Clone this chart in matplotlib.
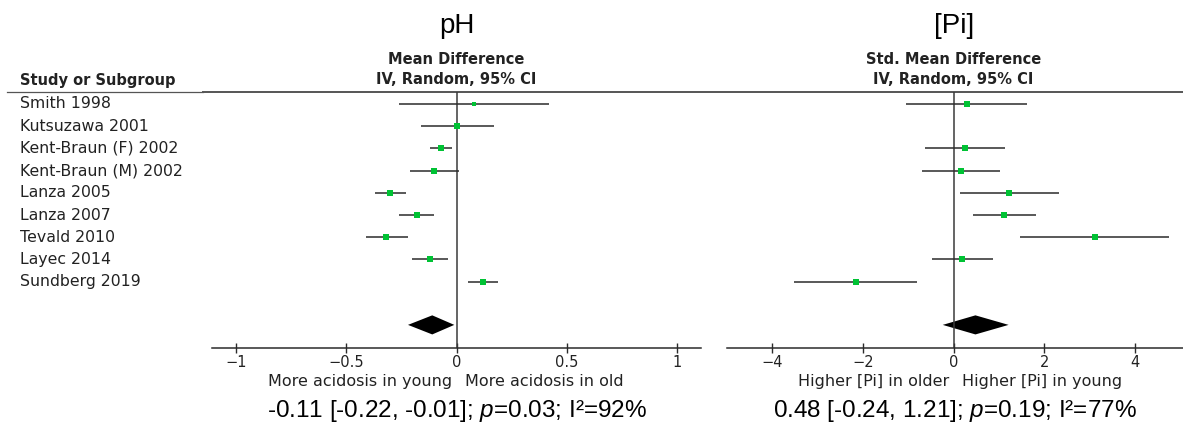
import matplotlib
matplotlib.use("Agg")
import matplotlib.pyplot as plt
import matplotlib.transforms as mtransforms
import numpy as np

plt.rcParams['font.family'] = ['DejaVu Sans']
plt.rcParams['mathtext.fontset'] = 'custom'
plt.rcParams['mathtext.rm'] = 'Liberation Sans'
plt.rcParams['mathtext.it'] = 'Liberation Sans:italic'

# studies (rows, top to bottom)
studies = ['Smith 1998', 'Kutsuzawa 2001', 'Kent-Braun (F) 2002', 'Kent-Braun (M) 2002',
           'Lanza 2005', 'Lanza 2007', 'Tevald 2010', 'Layec 2014', 'Sundberg 2019']

# pH: mean difference, 95% CI, weight (%)
ph_md = np.array([0.08, 0.00, -0.07, -0.10, -0.30, -0.18, -0.32, -0.12, 0.12])
ph_lo = np.array([-0.26, -0.16, -0.12, -0.21, -0.37, -0.26, -0.41, -0.20, 0.05])
ph_hi = np.array([0.42, 0.17, -0.02, 0.01, -0.23, -0.10, -0.22, -0.04, 0.19])
ph_w = np.array([5, 10, 13, 11, 13, 12, 12, 12, 13])
ph_pool = (-0.11, -0.22, -0.01)

# [Pi]: std. mean difference, 95% CI, weight (%) - no Pi data for Kutsuzawa
pi_smd = np.array([0.29, np.nan, 0.25, 0.16, 1.22, 1.11, 3.11, 0.19, -2.16])
pi_lo = np.array([-1.04, np.nan, -0.62, -0.70, 0.13, 0.43, 1.46, -0.48, -3.51])
pi_hi = np.array([1.62, np.nan, 1.13, 1.01, 2.32, 1.81, 4.75, 0.87, -0.80])
pi_w = np.array([9, 0, 12, 12, 13, 14, 9, 14, 9])
pi_pool = (0.48, -0.24, 1.21)

ph_ticks = [-1, -0.5, 0, 0.5, 1]
ph_ticklabels = ['\u22121', '\u22120.5', '0', '0.5', '1']
pi_ticks = [-4, -2, 0, 2, 4]
pi_ticklabels = ['\u22124', '\u22122', '0', '2', '4']

W, H = 1183, 423
fig = plt.figure(figsize=(W / 100, H / 100), dpi=100)

bg = fig.add_axes([0, 0, 1, 1])
bg.set_xlim(0, W)
bg.set_ylim(H, 0)
bg.axis('off')

y_top, y_axis = 92, 348
row_px = 22.2
first_row = 104
ylim = ((y_axis - first_row) / row_px, (y_top - first_row) / row_px)

green = '#00c234'
dark = '#2b2b2b'


def panel(x0, x1, xlim, est, lo, hi, w, pool, ticks, ticklabels, left_lab, right_lab, summary,
          title, head1):
    ax = fig.add_axes([x0 / W, (H - y_axis) / H, (x1 - x0) / W, (y_axis - y_top) / H])
    ax.set_xlim(*xlim)
    ax.set_ylim(*ylim)
    ax.patch.set_visible(False)
    for s in ['top', 'left', 'right']:
        ax.spines[s].set_visible(False)
    ax.spines['bottom'].set_color(dark)
    ax.spines['bottom'].set_linewidth(1.1)
    ax.set_yticks([])
    ax.set_xticks(ticks)
    ax.set_xticklabels(ticklabels)
    ax.tick_params(axis='x', direction='inout', length=7, width=1.0, color=dark,
                   labelsize=10.5, labelcolor='#222222', pad=1.3)
    ax.axvline(0, color='#3a3a3a', lw=1.1)

    rows = np.arange(len(est))
    ax.hlines(rows, lo, hi, color=dark, lw=1.1)
    for r, e, wt in zip(rows, est, w):
        if np.isnan(e):
            continue
        ax.plot(e, r, 's', color=green, markersize=2.2 + 0.17 * wt, markeredgewidth=0)

    m, plo, phi = pool
    yd = 9.95
    h = 0.43
    ax.fill([plo, m, phi, m], [yd, yd - h, yd, yd + h], color='black', lw=0)

    ax.annotate(left_lab, xy=(0, 0), xycoords=('data', 'axes fraction'), xytext=(-3, -24),
                textcoords='offset points', ha='right', va='center', fontsize=11.5, color='#222222')
    ax.annotate(right_lab, xy=(0, 0), xycoords=('data', 'axes fraction'), xytext=(6, -24),
                textcoords='offset points', ha='left', va='center', fontsize=11.5, color='#222222')
    ax.text(0.5, -0.246, summary, transform=ax.transAxes, ha='center', va='center',
            fontsize=17.5, family='Liberation Sans', color='black')

    xc = ax.transData.transform((0, 0))[0] / fig.dpi * 100
    bg.text(xc, 33, title, ha='center', va='baseline', fontsize=20, family='Liberation Sans')
    bg.text(xc, 59, head1, ha='center', va='center', fontsize=10.5, weight='bold', color='#222222')
    bg.text(xc, 80, 'IV, Random, 95% CI', ha='center', va='center', fontsize=10.5,
            weight='bold', color='#222222')
    return ax


axL = panel(212, 701, (-1.109, 1.109), ph_md, ph_lo, ph_hi, ph_w, ph_pool, ph_ticks, ph_ticklabels,
            'More acidosis in young', 'More acidosis in old',
            '-0.11 [-0.22, -0.01]; $p$=0.03; I\u00b2=92%', 'pH', 'Mean Difference')
axR = panel(727, 1183, (-4.99, 5.05), pi_smd, pi_lo, pi_hi, pi_w, pi_pool, pi_ticks, pi_ticklabels,
            'Higher [Pi] in older', 'Higher [Pi] in young',
            '0.48 [-0.24, 1.21]; $p$=0.19; I\u00b2=77%', '[Pi]', 'Std. Mean Difference')

# table header
bg.text(20, 81, 'Study or Subgroup', ha='left', va='center', fontsize=10.5, weight='bold',
        color='#222222')
bg.plot([7, 203], [y_top + 0.5, y_top + 0.5], color='#555555', lw=0.9)
bg.plot([203, W], [y_top, y_top], color='#555555', lw=1.4)

lab_tr = mtransforms.blended_transform_factory(bg.transData, axL.transData)
for i, s in enumerate(studies):
    bg.text(20, i, s, transform=lab_tr, ha='left', va='center', fontsize=11.3, color='#222222')

fig.savefig('out.png', dpi=100)
